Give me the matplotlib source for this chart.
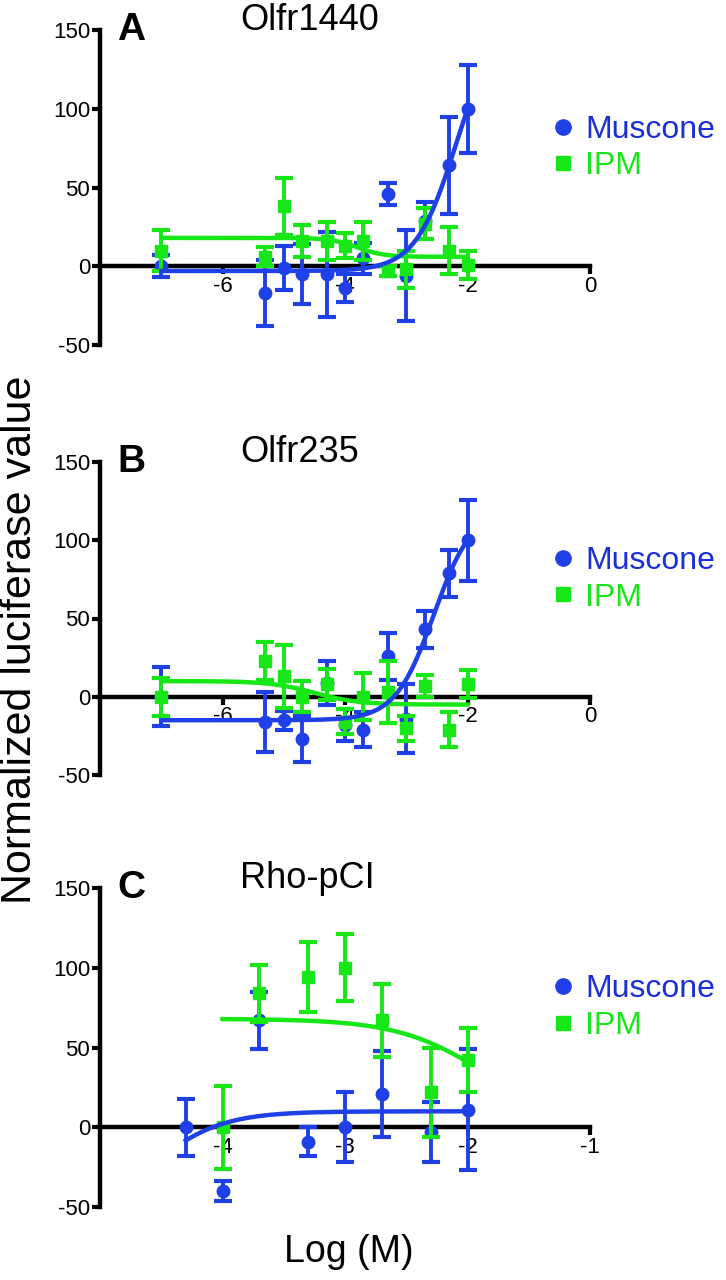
import numpy as np
import matplotlib
matplotlib.use('Agg')
import matplotlib.pyplot as plt
from matplotlib.lines import Line2D

plt.rcParams['font.family'] = ['Liberation Sans', 'DejaVu Sans']
plt.rcParams['axes.unicode_minus'] = False

BLUE = '#1f40e6'
BLUE_TXT = '#1b2fd8'
GREEN = '#17e617'

# log concentration steps used in panels A and B
log_conc = [-7, -5.3, -5, -4.7, -4.3, -4, -3.7, -3.3, -3, -2.7, -2.3, -2]

# A - Olfr1440
a_musc_y = [0, -17, -1, -5, -5, -14, 5, 46, -6, 29, 64, 100]
a_musc_err = [7, 21, 14, 19, 27, 9, 10, 7, 29, 12, 31, 28]
a_ipm_y = [10, 6, 38, 16, 16, 13, 16, -3, -2, 27, 10, 1]
a_ipm_err = [13, 6, 18, 10, 12, 8, 12, 3, 12, 10, 15, 9]

# B - Olfr235
b_musc_y = [0, -16, -15, -27, 9, -18, -21, 26, -14, 43, 79, 100]
b_musc_err = [19, 19, 6, 15, 14, 10, 11, 15, 22, 12, 15, 26]
b_ipm_y = [0, 23, 13, 0, 8, -16, 0, 3, -20, 7, -21, 8]
b_ipm_err = [12, 12, 20, 10, 10, 8, 15, 20, 8, 7, 11, 9]

# C - Rho-pCI
c_musc_x = [-4.3, -4, -3.7, -3.3, -3, -2.7, -2.3, -2]
c_musc_y = [0, -40, 67, -9, 0, 21, -3, 11]
c_musc_err = [18, 6, 18, 9, 22, 27, 19, 38]
c_ipm_x = [-4, -3.7, -3.3, -3, -2.7, -2.3, -2]
c_ipm_y = [0, 84, 94, 100, 67, 22, 42]
c_ipm_err = [26, 18, 22, 21, 23, 28, 20]

# dose-response fits: [level at low conc, level at high conc, logEC50, hill]
a_musc_fit = [-3, 160, -2.18, 1.30]
a_ipm_fit = [18, 6, -3.8, 2.0]
b_musc_fit = [-15, 120, -2.55, 1.38]
b_ipm_fit = [10, -5, -4.5, 1.2]
c_musc_fit = [-60, 10, -4.6, 1.5]
c_ipm_fit = [68, 0, -1.85, 1.2]


def sigmoid(x, p):
    low, high, ec, hill = p
    return low + (high - low) / (1 + 10 ** ((ec - x) * hill))


def draw_panel(ax, mx, my, merr, mfit, ix, iy, ierr, ifit, xlim, xticks, letter, title):
    ax.errorbar(mx, my, yerr=merr, fmt='o', color=BLUE, ms=9, elinewidth=2.8,
                capsize=6.5, capthick=3, zorder=3)
    ax.errorbar(ix, iy, yerr=ierr, fmt='s', color=GREEN, ms=8.5, elinewidth=2.8,
                capsize=6.5, capthick=3, zorder=4)
    xs = np.linspace(min(ix), max(ix), 200)
    ax.plot(xs, sigmoid(xs, ifit), color=GREEN, lw=3.2, zorder=5)
    xs = np.linspace(min(mx), max(mx), 200)
    ax.plot(xs, sigmoid(xs, mfit), color=BLUE, lw=3.2, zorder=6)

    ax.set_xlim(xlim)
    ax.set_ylim(-50, 150)
    ax.spines['top'].set_visible(False)
    ax.spines['right'].set_visible(False)
    ax.spines['bottom'].set_position(('data', 0))
    ax.spines['left'].set_linewidth(3.2)
    ax.spines['bottom'].set_linewidth(3.2)
    ax.set_xticks(xticks)
    ax.set_yticks([-50, 0, 50, 100, 150])
    ax.tick_params(width=3, length=6, labelsize=16, pad=1)

    ax.text(0.035, 1.0, letter, transform=ax.transAxes, fontsize=28,
            fontweight='bold', va='center', ha='left')
    ax.text(0.286, 1.03, title, transform=ax.transAxes, fontsize=26,
            va='center', ha='left')

    handles = [Line2D([], [], color=BLUE, marker='o', ls='none', ms=11),
               Line2D([], [], color=GREEN, marker='s', ls='none', ms=10)]
    ax.legend(handles, ['Muscone', 'IPM'], loc='center left',
              bbox_to_anchor=(0.918, 0.625), frameon=False, fontsize=23,
              handlelength=0.8, handletextpad=0.3, labelspacing=0.2,
              borderpad=0, borderaxespad=0, labelcolor=[BLUE_TXT, GREEN])


fig = plt.figure(figsize=(7.26, 12.8), dpi=100)
axA = fig.add_axes([100 / 726, 1 - 345 / 1280, 490 / 726, 315 / 1280])
axB = fig.add_axes([100 / 726, 1 - 775 / 1280, 490 / 726, 313 / 1280])
axC = fig.add_axes([100 / 726, 1 - 1207 / 1280, 490 / 726, 319 / 1280])

draw_panel(axA, log_conc, a_musc_y, a_musc_err, a_musc_fit,
           log_conc, a_ipm_y, a_ipm_err, a_ipm_fit, (-8, 0), [-6, -4, -2, 0], 'A', 'Olfr1440')
draw_panel(axB, log_conc, b_musc_y, b_musc_err, b_musc_fit,
           log_conc, b_ipm_y, b_ipm_err, b_ipm_fit, (-8, 0), [-6, -4, -2, 0], 'B', 'Olfr235')
draw_panel(axC, c_musc_x, c_musc_y, c_musc_err, c_musc_fit,
           c_ipm_x, c_ipm_y, c_ipm_err, c_ipm_fit, (-5, -1), [-4, -3, -2, -1], 'C', 'Rho-pCI')

fig.text(20 / 726, 1 - 640 / 1280, 'Normalized luciferase value', rotation=90,
         fontsize=31, va='center', ha='center')
fig.text(349 / 726, 1 - 1252 / 1280, 'Log (M)', fontsize=27, va='center', ha='center')

fig.savefig('out.png', dpi=100)
